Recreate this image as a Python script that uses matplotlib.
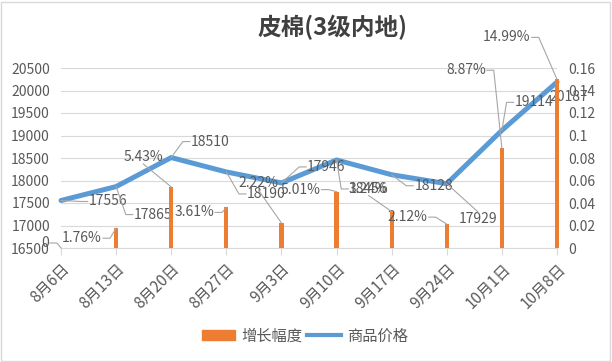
import numpy as np
import matplotlib
matplotlib.use('Agg')
import matplotlib.pyplot as plt
from matplotlib.lines import Line2D
from matplotlib.patches import Patch, Rectangle
from matplotlib.ticker import FuncFormatter, MultipleLocator

plt.rcParams['font.family'] = ['Noto Sans CJK SC', 'DejaVu Sans']

# --- data
dates = ['8月6日', '8月13日', '8月20日', '8月27日', '9月3日',
         '9月10日', '9月17日', '9月24日', '10月1日', '10月8日']
price = [17556, 17865, 18510, 18190, 17946, 18456, 18128, 17929, 19114, 20187]
growth = [0, 1.76, 5.43, 3.61, 2.22, 5.01, 3.24, 2.12, 8.87, 14.99]  # percent

# label offsets in pixels from the point (dx right, dy down) and leader kind
price_off = [(47, 1), (37, 28), (39, -16), (40, 22), (45, -16),
             (32, 29), (42, 11), (31, 35), (32, -28), (12, 15)]
price_lead = ['h', 'h', 'h', 'h', 'h', 'h', 'h', 'v', 'h', 'n']
growth_off = [(-16, -5), (-34, 10), (-28, -30), (-32, 5), (-23, -40),
              (-36, -2), (-23, -23), (-39, -7), (-36, -78), (-50, -42)]
growth_lead = ['h', 'h', 'v', 'h', 'v', 'h', 'v', 'h', 'h', 'h']

blue = '#5B9BD5'
orange = '#ED7D31'
grid = '#D9D9D9'
txt = '#595959'

x = np.arange(len(dates))

fig = plt.figure(figsize=(6.12, 3.62), dpi=100)
ax = fig.add_axes([61 / 612, 1 - 248 / 362, 496 / 612, 180 / 362])
ax2 = ax.twinx()

ax.plot(x, price, color=blue, lw=3.6, solid_joinstyle='round',
        solid_capstyle='round', clip_on=False, zorder=3)
ax2.bar(x, np.array(growth) / 100, width=0.075, color=orange, clip_on=False)

ax.set_xlim(0, len(dates) - 1)
ax.set_ylim(16500, 20500)
ax2.set_ylim(0, 0.16)
ax.yaxis.set_major_locator(MultipleLocator(500))
ax2.yaxis.set_major_locator(MultipleLocator(0.02))
ax2.yaxis.set_major_formatter(FuncFormatter(lambda v, _: f'{v:.2f}'.rstrip('0').rstrip('.')))

ax.grid(axis='y', color=grid, lw=0.8)
ax.set_axisbelow(True)
for a in (ax, ax2):
    for s in a.spines.values():
        s.set_visible(False)
ax.spines['bottom'].set_visible(True)
ax.spines['bottom'].set_color(grid)

ax.set_xticks(x)
ax.set_xticklabels(dates, rotation=45, ha='right', rotation_mode='anchor')
ax.tick_params(axis='x', length=5, color=grid, labelsize=11, labelcolor=txt, pad=4)
ax.tick_params(axis='y', length=0, labelsize=10, labelcolor=txt, pad=8)
ax2.tick_params(axis='y', length=0, labelsize=10, labelcolor=txt, pad=8)

fig.text(332 / 612, 1 - 27 / 362, '皮棉(3级内地)', ha='center', va='center',
         fontsize=17, fontweight='bold', color='#404040')

# data labels
labels = []
for i in range(len(dates)):
    t = ax.annotate(str(price[i]), xy=(i, price[i]), xytext=(price_off[i][0], -price_off[i][1]),
                    textcoords='offset pixels', ha='center', va='center',
                    fontsize=10, color=txt, annotation_clip=False, zorder=5)
    labels.append((t, ax, i, price[i], price_lead[i]))
for i in range(len(dates)):
    s = '0' if growth[i] == 0 else f'{growth[i]:.2f}%'
    t = ax2.annotate(s, xy=(i, growth[i] / 100), xytext=(growth_off[i][0], -growth_off[i][1]),
                     textcoords='offset pixels', ha='center', va='center',
                     fontsize=10, color=txt, annotation_clip=False, zorder=5)
    labels.append((t, ax2, i, growth[i] / 100, growth_lead[i]))

# legend
handles = [Patch(facecolor=orange, edgecolor=orange),
           Line2D([0], [0], color=blue, lw=3)]
fig.legend(handles, ['增长幅度', '商品价格'], loc='center', bbox_to_anchor=(0.498, 0.072),
           ncol=2, frameon=False, fontsize=11, handlelength=2.2, handletextpad=0.4,
           columnspacing=0.3, labelcolor=txt)

# leader lines, done after a draw so the text boxes are known
fig.canvas.draw()
inv = fig.transFigure.inverted()
for t, a, i, v, kind in labels:
    if kind == 'n':
        continue
    bb = t.get_window_extent()
    px, py = a.transData.transform((i, v))
    cx, cy = (bb.x0 + bb.x1) / 2, (bb.y0 + bb.y1) / 2
    if kind == 'h':
        if px > cx:
            pts = [(bb.x1 + 1, cy), (bb.x1 + 8, cy), (px, py)]
        else:
            pts = [(bb.x0 - 1, cy), (bb.x0 - 8, cy), (px, py)]
    else:
        ey = bb.y0 if py < cy else bb.y1
        pts = [(cx, ey), (px, py)]
    pts = inv.transform(pts)
    fig.add_artist(Line2D(pts[:, 0], pts[:, 1], transform=fig.transFigure,
                          color='#A6A6A6', lw=0.8, zorder=4))

fig.patches.append(Rectangle((0.002, 0.004), 0.994, 0.99, transform=fig.transFigure,
                             fill=False, edgecolor=grid, lw=1))

fig.savefig('out.png', dpi=100)
